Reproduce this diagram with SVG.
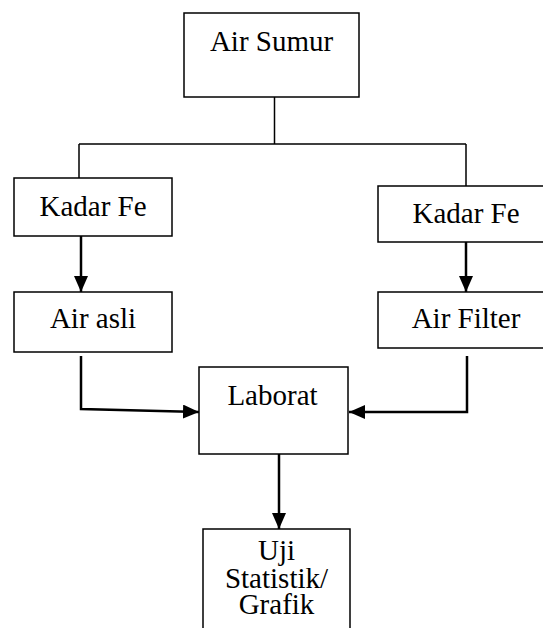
<svg xmlns="http://www.w3.org/2000/svg" width="543" height="628" viewBox="0 0 543 628">
<style>
  .box { fill: #fff; stroke: #000; stroke-width: 1.5; }
  .lbl { font-family: "Liberation Serif", "Times New Roman", serif; font-size: 29px; fill: #000; text-anchor: middle; }
  .ln { fill: none; stroke: #000; stroke-width: 1.5; }
  .arr { fill: none; stroke: #000; stroke-width: 2.5; marker-end: url(#ah); }
</style>
<defs>
  <marker id="ah" markerUnits="userSpaceOnUse" markerWidth="16" markerHeight="14" refX="16" refY="7" orient="auto">
    <path d="M0,0 L16,7 L0,14 Z" fill="#000"/>
  </marker>
</defs>
<rect width="543" height="628" fill="#fff"/>
<g id="connectors">
  <path class="ln" d="M274.5,97 V144 M79,144 H466 M79,144 V178 M466,144 V186"/>
  <path class="arr" d="M81,236 V292"/>
  <path class="arr" d="M466,242 V292"/>
  <path class="arr" d="M81,356 V409 L199,412"/>
  <path class="arr" d="M467,356 V412 H349"/>
  <path class="arr" d="M279,454 V529"/>
</g>
<g id="air-sumur">
  <rect class="box" x="184" y="13" width="175" height="84"/>
  <text class="lbl" x="271.5" y="51">Air Sumur</text>
</g>
<g id="kadar-fe-left">
  <rect class="box" x="14" y="178" width="158" height="58"/>
  <text class="lbl" x="93" y="216">Kadar Fe</text>
</g>
<g id="kadar-fe-right">
  <rect class="box" x="378" y="186" width="170" height="56"/>
  <text class="lbl" x="466" y="223">Kadar Fe</text>
</g>
<g id="air-asli">
  <rect class="box" x="14" y="292" width="158" height="60"/>
  <text class="lbl" x="93" y="328">Air asli</text>
</g>
<g id="air-filter">
  <rect class="box" x="378" y="292" width="170" height="56"/>
  <text class="lbl" x="466" y="328">Air Filter</text>
</g>
<g id="laborat">
  <rect class="box" x="199" y="367" width="149" height="87"/>
  <text class="lbl" x="272.5" y="405">Laborat</text>
</g>
<g id="uji-statistik">
  <rect class="box" x="203" y="529" width="147" height="110"/>
  <text class="lbl" x="276.5" y="560">Uji</text>
  <text class="lbl" x="276.5" y="588">Statistik/</text>
  <text class="lbl" x="276.5" y="614">Grafik</text>
</g>
</svg>
